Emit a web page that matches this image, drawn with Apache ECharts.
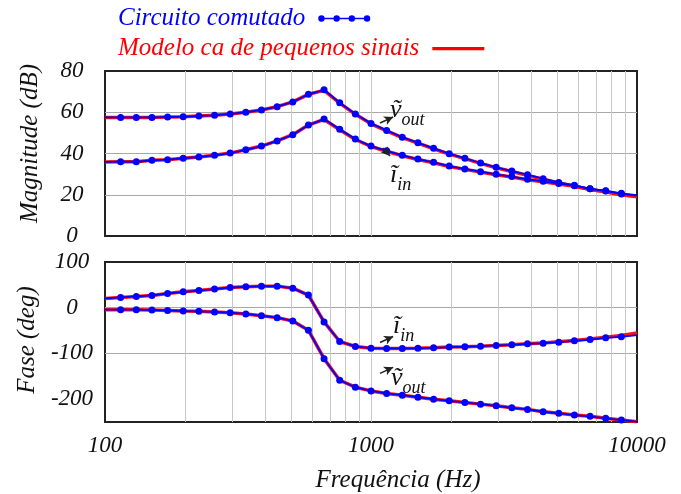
<!DOCTYPE html>
<html>
<head>
<meta charset="utf-8">
<script src="https://cdn.jsdelivr.net/npm/echarts@6/dist/echarts.min.js"></script>
<style>
  html, body { margin: 0; padding: 0; background: #fff; }
  #chart { width: 681px; height: 494px; }
</style>
</head>
<body>
<div id="chart"></div>
<script>
// frequency points (Hz), 17 per decade
const freq = [100, 114.5, 131.1, 150.1, 171.9, 196.8, 225.4, 258.1, 295.5, 338.4, 387.5, 443.7, 508, 581.7, 666.1, 762.7, 873.3,
  1000, 1145, 1311, 1501, 1719, 1968, 2254, 2581, 2955, 3384, 3875, 4437, 5080, 5817, 6661, 7627, 8733, 10000]

// magnitude (dB) - circuito comutado
const magVout = [57.5, 57.5, 57.5, 57.5, 57.7, 57.8, 58.2, 58.5, 59.2, 60.0, 61.1, 62.7, 65.0, 68.7, 70.9, 64.6, 59.2, 54.6,
  51.2, 47.9, 45.2, 42.5, 39.9, 37.7, 35.4, 33.3, 31.5, 29.7, 27.8, 26.0, 24.6, 22.9, 22.0, 20.7, 19.8]
const magIin = [35.9, 36.0, 36.0, 36.7, 37.0, 37.7, 38.3, 39.1, 40.2, 41.8, 43.6, 46.1, 49.1, 53.8, 56.7, 51.7, 47.0, 43.6,
  41.3, 39.1, 37.3, 35.7, 33.9, 32.5, 31.2, 29.9, 28.8, 27.5, 26.5, 25.4, 24.4, 22.9, 21.8, 20.4, 19.6]
// magnitude (dB) - modelo ca
const magVoutModel = [57.5, 57.5, 57.5, 57.5, 57.7, 57.8, 58.2, 58.5, 59.2, 60.0, 61.1, 62.7, 65.0, 68.7, 70.6, 64.4, 59.0, 54.4,
  51.0, 47.7, 45.0, 42.3, 39.7, 37.5, 35.2, 33.1, 31.3, 29.4, 27.5, 25.7, 24.2, 22.5, 21.4, 20.0, 19.1]
const magIinModel = [35.9, 36.0, 36.0, 36.7, 37.0, 37.7, 38.3, 39.1, 40.2, 41.8, 43.6, 46.1, 49.1, 53.8, 56.5, 51.5, 46.8, 43.4,
  41.1, 38.9, 37.1, 35.5, 33.7, 32.3, 31.0, 29.7, 28.6, 27.3, 26.3, 25.2, 24.1, 22.6, 21.4, 20.1, 19.0]

// fase (deg) - circuito comutado
const phIin = [20.3, 22.4, 24.6, 26.8, 31.1, 34.8, 37.6, 40.7, 44.2, 45.7, 47.2, 47.2, 42.8, 27.6, -31.1, -73.9, -84.8, -88.5,
  -89.1, -89.1, -88.5, -87.7, -86.2, -85.4, -84.1, -82.6, -81.1, -79.0, -77.5, -75.4, -72.4, -69.6, -65.9, -63.7, -60.0]
const phVout = [-4.2, -4.3, -4.3, -5.0, -5.9, -7.2, -8.0, -9.3, -10.9, -13.7, -17.4, -21.7, -28.9, -49.3, -111.5, -158.7, -173.9, -182.0,
  -187.6, -191.3, -195.7, -200.0, -203.7, -207.2, -210.9, -214.6, -218.9, -222.4, -227.6, -231.1, -234.8, -237.6, -242.0, -245.7, -249.0]
// fase (deg) - modelo ca
const phIinModel = [20.3, 22.4, 24.6, 26.8, 31.1, 34.8, 37.6, 40.7, 44.2, 45.7, 47.2, 47.2, 42.8, 27.6, -31.1, -73.9, -84.8, -88.5,
  -89.1, -89.1, -88.5, -87.7, -86.2, -85.4, -84.1, -82.6, -81.0, -78.8, -77.0, -74.6, -71.5, -68.3, -64.5, -60.5, -55.0]
const phVoutModel = [-4.2, -4.3, -4.3, -5.0, -5.9, -7.2, -8.0, -9.3, -10.9, -13.7, -17.4, -21.7, -28.9, -49.3, -111.5, -158.7, -173.9, -182.0,
  -187.6, -191.3, -195.7, -200.0, -203.7, -207.2, -210.9, -214.6, -218.9, -222.4, -227.6, -231.1, -234.8, -237.6, -242.0, -245.7, -249.5]

// axis ticks
const freqGrid = [100, 200, 300, 400, 500, 600, 700, 800, 900, 1000, 2000, 3000, 4000, 5000, 6000, 7000, 8000, 9000, 10000]
const freqLabels = [100, 1000, 10000]
const phaseTicks = [-200, -100, 0, 100]

const nameComutado = 'Circuito comutado'
const nameModelo = 'Modelo ca de pequenos sinais'

const FONT = 'Liberation Serif'

const chart = echarts.init(document.getElementById('chart'))

const pairs = (ys) => freq.map((f, i) => [f, ys[i]])
// dots only inside the plot, line runs to the frame
const dotted = (ys) => freq.map((f, i) =>
  (i === 0 || i === freq.length - 1) ? { value: [f, ys[i]], symbol: 'none' } : [f, ys[i]])

const richSub = {
  m: { fontFamily: FONT, fontStyle: 'italic', fontSize: 26, color: '#111', padding: [0, 0, 6, 0], verticalAlign: 'bottom' },
  s: { fontFamily: FONT, fontStyle: 'italic', fontSize: 18, color: '#111', verticalAlign: 'bottom' },
}

const annotation = (labels, arrows) => ({
  markPoint: {
    silent: true,
    symbol: 'circle',
    symbolSize: 1,
    itemStyle: { color: 'transparent' },
    label: {
      show: true,
      position: 'inside',
      align: 'left',
      verticalAlign: 'middle',
      rich: richSub,
    },
    data: labels.map(l => ({ coord: l.at, label: { formatter: l.text } })),
  },
  markLine: {
    silent: true,
    symbol: ['none', 'arrow'],
    symbolSize: [7, 9],
    lineStyle: { color: '#222', width: 1.5, type: 'solid' },
    label: { show: false },
    data: arrows.map(a => [{ coord: a[0] }, { coord: a[1] }]),
  },
})

const modelLine = (data, xi, extra) => Object.assign({
  name: nameModelo,
  type: 'line',
  xAxisIndex: xi,
  yAxisIndex: xi,
  data: pairs(data),
  color: '#ff0000',
  symbol: 'none',
  lineStyle: { width: 3.5, color: '#ff1010' },
  z: 2,
}, extra || {})

const circuitLine = (data, xi) => ({
  name: nameComutado,
  type: 'line',
  xAxisIndex: xi,
  yAxisIndex: xi,
  data: dotted(data),
  color: '#0000ff',
  symbol: 'circle',
  symbolSize: 7,
  showAllSymbol: true,
  lineStyle: { width: 1.8, color: '#0000ff' },
  itemStyle: { color: '#0000ff' },
  z: 3,
})

const xAxisBase = {
  type: 'log',
  logBase: 10,
  min: 100,
  max: 10000,
  axisLine: { show: false },
  axisTick: { show: false, customValues: freqGrid },
  splitLine: { show: true, showMinLine: false, showMaxLine: false, lineStyle: { color: '#c8c8c8', width: 1 } },
}

const tickFont = { fontFamily: FONT, fontStyle: 'italic', fontSize: 23, color: '#111' }
const nameFont = { fontFamily: FONT, fontStyle: 'italic', fontSize: 25, color: '#111' }

const blueIcon = 'path://M0,3.3 L52,3.3 L52,4.7 L0,4.7 Z M0,4 a3.2,3.2 0 1,1 6.4,0 a3.2,3.2 0 1,1 -6.4,0 Z M15.2,4 a3.2,3.2 0 1,1 6.4,0 a3.2,3.2 0 1,1 -6.4,0 Z M30.4,4 a3.2,3.2 0 1,1 6.4,0 a3.2,3.2 0 1,1 -6.4,0 Z M45.6,4 a3.2,3.2 0 1,1 6.4,0 a3.2,3.2 0 1,1 -6.4,0 Z'
const redIcon = 'path://M0,0 L48,0 L48,3 L0,3 Z'

const legendBase = {
  orient: 'horizontal',
  left: 113,
  align: 'right',
  itemWidth: 52,
  itemHeight: 8,
  symbolKeepAspect: true,
  selectedMode: false,
  textStyle: { fontFamily: FONT, fontStyle: 'italic', fontSize: 25, padding: [0, 8, 0, 0] },
}

const option = {
  animation: false,
  backgroundColor: '#ffffff',
  legend: [
    Object.assign({}, legendBase, {
      top: 1,
      data: [{ name: nameComutado, icon: blueIcon, itemStyle: { color: '#0000ff', borderWidth: 0 }, textStyle: { color: '#0000ff' } }],
    }),
    Object.assign({}, legendBase, {
      top: 31,
      data: [{ name: nameModelo, icon: redIcon, itemStyle: { color: '#ff0000', borderWidth: 0 }, textStyle: { color: '#ff0000' } }],
    }),
  ],
  grid: [
    { left: 105, right: 44, top: 71, height: 165, show: true, borderColor: '#222', borderWidth: 2, backgroundColor: 'transparent' },
    { left: 105, right: 44, top: 262, height: 161, show: true, borderColor: '#222', borderWidth: 2, backgroundColor: 'transparent' },
  ],
  xAxis: [
    Object.assign({}, xAxisBase, { gridIndex: 0, axisLabel: { show: false } }),
    Object.assign({}, xAxisBase, {
      gridIndex: 1,
      axisLabel: Object.assign({ customValues: freqLabels, margin: 12, formatter: (v) => String(v) }, tickFont),
      name: 'Frequência (Hz)',
      nameLocation: 'middle',
      nameGap: 46,
      nameTextStyle: Object.assign({ padding: [0, 0, 0, 54] }, nameFont),
    }),
  ],
  yAxis: [
    {
      gridIndex: 0,
      type: 'value',
      min: 0,
      max: 80,
      interval: 20,
      axisLine: { show: false },
      axisTick: { show: false },
      axisLabel: Object.assign({ margin: 33, align: 'center', padding: [10, 0, 0, 0] }, tickFont),
      splitLine: { show: true, showMinLine: false, showMaxLine: false, lineStyle: { color: '#a8a8a8', width: 1 } },
      name: 'Magnitude (dB)',
      nameLocation: 'middle',
      nameGap: 62,
      nameTextStyle: Object.assign({ padding: [0, 0, 0, 20] }, nameFont),
    },
    {
      gridIndex: 1,
      type: 'value',
      min: -250,
      max: 100,
      axisLine: { show: false },
      axisTick: { show: false, customValues: phaseTicks },
      axisLabel: Object.assign({ margin: 33, align: 'center', padding: [10, 0, 0, 0], customValues: phaseTicks }, tickFont),
      splitLine: { show: true, showMinLine: false, showMaxLine: false, lineStyle: { color: '#a8a8a8', width: 1 } },
      name: 'Fase (deg)',
      nameLocation: 'middle',
      nameGap: 62,
      nameTextStyle: Object.assign({ padding: [0, 0, 0, 4] }, nameFont),
    },
  ],
  series: [
    modelLine(magVoutModel, 0, annotation(
      [
        { text: '{m|v\u0303}{s|out}', at: [1179, 59.6] },
        { text: '{m|i\u0303}{s|in}', at: [1179, 28.1] },
      ],
      [
        [[1081, 54.8], [1211, 57.7]],
        [[1109, 42.7], [1179, 38.8]],
      ]
    )),
    modelLine(magIinModel, 0),
    modelLine(phIinModel, 1, annotation(
      [
        { text: '{m|i\u0303}{s|in}', at: [1211, -47.8] },
        { text: '{m|v\u0303}{s|out}', at: [1189, -161] },
      ],
      [
        [[1081, -76.1], [1211, -63]],
        [[1081, -143.5], [1211, -130.4]],
      ]
    )),
    modelLine(phVoutModel, 1),
    circuitLine(magVout, 0),
    circuitLine(magIin, 0),
    circuitLine(phIin, 1),
    circuitLine(phVout, 1),
  ],
}

chart.setOption(option)
</script>
</body>
</html>
